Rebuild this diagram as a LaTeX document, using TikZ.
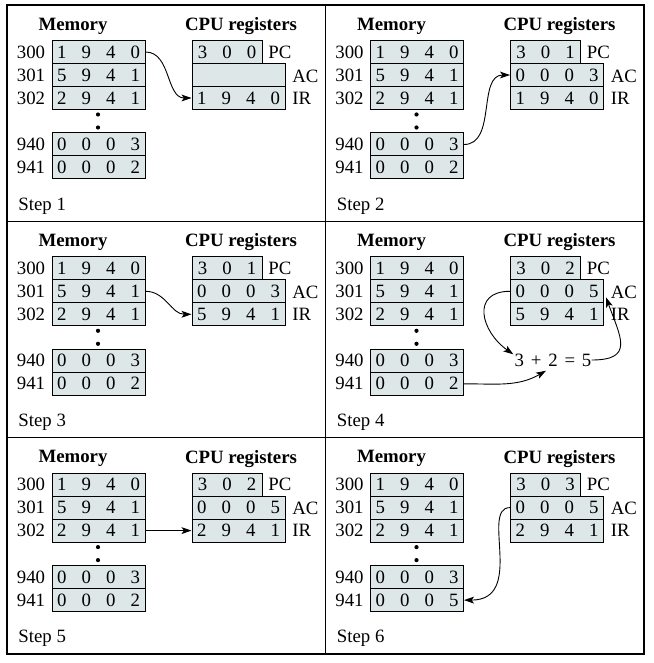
\documentclass[tikz,border=0pt]{standalone}
\usepackage{fontspec}
\setmainfont{Liberation Serif}
\usepackage{tikz}
\usetikzlibrary{arrows.meta}
\usetikzlibrary{calc}

\definecolor{cellfill}{RGB}{222,231,231}
\newcommand{\dsep}{\hspace{7.55pt}}

\tikzset{
	every node/.style={font=\fontsize{9.4}{11}\selectfont, inner sep=0pt},
	title/.style={font=\fontsize{9.4}{11}\selectfont\bfseries},
	memcell/.style={draw, fill=cellfill, line width=0.5pt, minimum width=46.5pt, minimum height=11.5pt},
	pccell/.style={memcell, minimum width=35pt},
	regcell/.style={memcell},
	addr/.style={anchor=east},
	reglab/.style={anchor=west},
	conn/.style={line width=0.45pt, -{Stealth[length=5pt,width=3.4pt,inset=1.2pt]}}
}

% one step of the fetch/execute cycle
\newcommand{\cpupanel}[7]{%
	\begin{scope}[shift={(#2,#3)}]
		\node[title] (s#1mem) at (73,-26) {Memory};
		\node[title] (s#1cpu) at (241,-26) {CPU registers};
		\node[memcell] (s#1m300) at (98.5,-52) {1\dsep9\dsep4\dsep0};
		\node[memcell] (s#1m301) at (98.5,-75) {5\dsep9\dsep4\dsep1};
		\node[memcell] (s#1m302) at (98.5,-98) {2\dsep9\dsep4\dsep1};
		\node[memcell] (s#1m940) at (98.5,-144.5) {0\dsep0\dsep0\dsep3};
		\node[memcell] (s#1m941) at (98.5,-167.5) {#7};
		\foreach \a/\y in {300/-52,301/-75,302/-98,940/-144.5,941/-167.5}
			\node[addr] at (45.5,\y) {\a};
		\fill (98,-114.5) circle (2.1);
		\fill (98,-127.5) circle (2.1);
		\node[pccell] (s#1pc) at (227,-52) {#4};
		\node[regcell] (s#1ac) at (238.5,-75) {#5};
		\node[regcell] (s#1ir) at (238.5,-98) {#6};
		\node[reglab] at (268,-52) {PC};
		\node[reglab] at (292,-76) {AC};
		\node[reglab] at (292,-98) {IR};
		\node[anchor=west] (s#1lab) at (18,-206) {Step #1};
	\end{scope}}

\begin{document}
\begin{tikzpicture}[x=0.5pt,y=0.5pt]
	\useasboundingbox (0,0) rectangle (653,-663);
	\draw[line width=0.65pt] (7,-5) rectangle (644,-654);
	\draw[line width=0.65pt] (325.7,-5) -- (325.7,-654);
	\draw[line width=0.65pt] (7,-221.3) -- (644,-221.3);
	\draw[line width=0.65pt] (7,-437.7) -- (644,-437.7);

	\cpupanel{1}{0}{0}{3\dsep0\dsep0}{}{1\dsep9\dsep4\dsep0}{0\dsep0\dsep0\dsep2}
	\cpupanel{2}{318.5}{0}{3\dsep0\dsep1}{0\dsep0\dsep0\dsep3}{1\dsep9\dsep4\dsep0}{0\dsep0\dsep0\dsep2}
	\cpupanel{3}{0}{-216.3}{3\dsep0\dsep1}{0\dsep0\dsep0\dsep3}{5\dsep9\dsep4\dsep1}{0\dsep0\dsep0\dsep2}
	\cpupanel{4}{318.5}{-216.3}{3\dsep0\dsep2}{0\dsep0\dsep0\dsep5}{5\dsep9\dsep4\dsep1}{0\dsep0\dsep0\dsep2}
	\cpupanel{5}{0}{-432.6}{3\dsep0\dsep2}{0\dsep0\dsep0\dsep5}{2\dsep9\dsep4\dsep1}{0\dsep0\dsep0\dsep2}
	\cpupanel{6}{318.5}{-432.6}{3\dsep0\dsep3}{0\dsep0\dsep0\dsep5}{2\dsep9\dsep4\dsep1}{0\dsep0\dsep0\dsep5}

	% data movement
	\draw[conn] (s1m300.east) to[out=0,in=180] (s1ir.west);
	\draw[conn] (s2m940.east) to[out=0,in=180] (s2ac.west);
	\draw[conn] (s3m301.east) to[out=0,in=180] (s3ir.west);
	\node (s4sum) at (553,-360) {3\hspace{3.4pt}+\hspace{3.4pt}2\hspace{3.4pt}=\hspace{3.4pt}5};
	\draw[conn] (s4ac.west) to[out=180,in=145,looseness=1.6] ($(s4sum.north west)+(-1,-1)$);
	\draw[conn] (s4m941.east) to[out=0,in=-150] ($(s4sum.south)+(-7,-4)$);
	\draw[conn] (s4sum.east) to[out=0,in=-70,looseness=1.7] ($(s4ac.east)+(2,-6)$);
	\draw[conn] (s5m302.east) -- (s5ir.west);
	\draw[conn] (s6ac.west) .. controls +(-30,0) and +(62,0) .. (s6m941.east);
\end{tikzpicture}
\end{document}
